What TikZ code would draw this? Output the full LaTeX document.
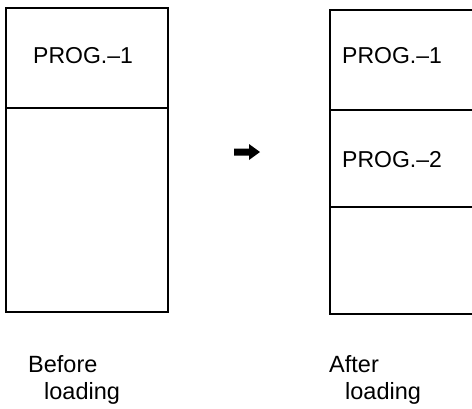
\documentclass[tikz,border=0pt]{standalone}
\usepackage{fontspec}
\setmainfont{Liberation Sans}
\begin{document}
\begin{tikzpicture}[x=1pt,y=-1pt,
  frame/.style={line width=1.4pt, black},
  prog/.style={inner sep=0pt, anchor=base west, font=\fontsize{23}{26}\selectfont},
  lbl/.style={inner sep=0pt, anchor=base west, font=\fontsize{23.5}{28}\selectfont}]
\useasboundingbox (0,0) rectangle (472,408);
% left memory map
\draw[frame] (6,8) rectangle (168,312);
\draw[frame] (6,108) -- (168,108);
\node[prog] (l1) at (33,63) {PROG.–1};
% arrow
\fill (234,148.5) -- (249,148.5) -- (249,144) -- (260,152) -- (249,160) -- (249,155.5) -- (234,155.5) -- cycle;
% right memory map
\draw[frame] (472,10) -- (330,10) -- (330,314) -- (472,314);
\draw[frame] (330,110) -- (472,110);
\draw[frame] (330,207) -- (472,207);
\node[prog] (r1) at (342,63) {PROG.–1};
\node[prog] (r2) at (342,167) {PROG.–2};
% captions
\node[lbl] (b1) at (28,372) {Before};
\node[lbl] (b2) at (44,399) {loading};
\node[lbl] (a1) at (329,372) {After};
\node[lbl] (a2) at (345,399) {loading};
\end{tikzpicture}
\end{document}
